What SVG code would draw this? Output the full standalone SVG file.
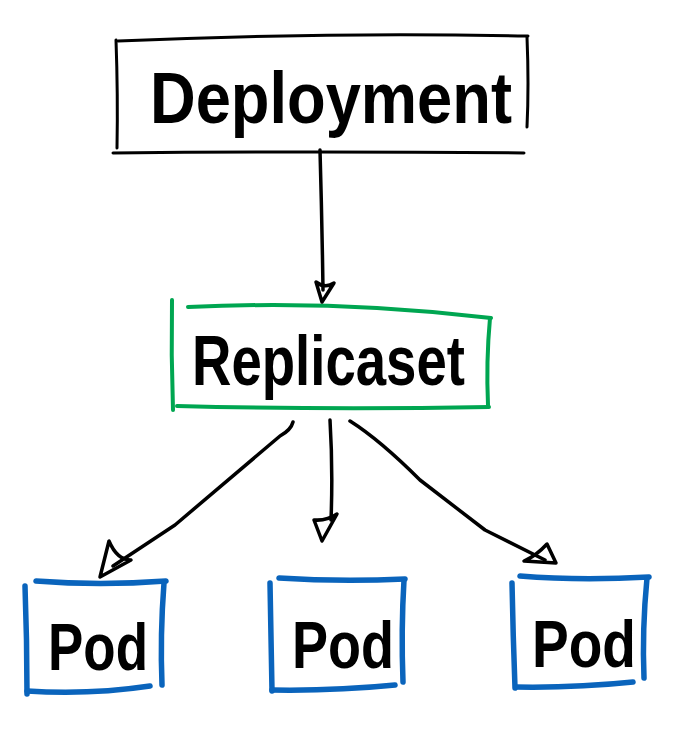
<svg xmlns="http://www.w3.org/2000/svg" width="700" height="740" viewBox="0 0 700 740">
<style>
.blk{fill:none;stroke:#000;stroke-width:3;stroke-linecap:round;stroke-linejoin:round}
.grn{fill:none;stroke:#00a651;stroke-width:4;stroke-linecap:round;stroke-linejoin:round}
.blu{fill:none;stroke:#0a64bc;stroke-width:5.5;stroke-linecap:round;stroke-linejoin:round}
.lbl{font-family:"Liberation Sans Narrow","Liberation Sans",sans-serif;fill:#000;font-weight:bold}
.conn{fill:none;stroke:#000;stroke-width:3.5;stroke-linecap:round;stroke-linejoin:round}
</style>
<rect width="700" height="740" fill="#fff"/>
<g id="deployment">
<path class="blk" d="M116 40 Q118 95 117 148"/>
<path class="blk" d="M118 41 Q320 32 528 36"/>
<path class="blk" d="M527 37 Q529 85 527 127"/>
<path class="blk" d="M113 153 Q320 151 524 153"/>
<text class="lbl" x="150" y="123" font-size="72" textLength="362" lengthAdjust="spacingAndGlyphs">Deployment</text>
</g>
<g id="replicaset">
<path class="grn" d="M172 300 Q171 355 173 410"/>
<path class="grn" d="M188 307 Q340 300 491 318"/>
<path class="grn" d="M490 318 Q486 362 488 405"/>
<path class="grn" d="M177 406 Q330 410 489 407"/>
<text class="lbl" x="192" y="385" font-size="70" textLength="273" lengthAdjust="spacingAndGlyphs">Replicaset</text>
</g>
<g id="pod1">
<path class="blu" d="M25 586 Q27 640 27 694"/>
<path class="blu" d="M36 581 Q100 586 166 581"/>
<path class="blu" d="M164 583 Q160 635 162 685"/>
<path class="blu" d="M27 691 Q90 695 150 686"/>
<text class="lbl" x="48" y="670" font-size="66" textLength="100" lengthAdjust="spacingAndGlyphs">Pod</text>
</g>
<g id="pod2">
<path class="blu" d="M270 583 Q271 640 272 691"/>
<path class="blu" d="M279 578 Q340 582 405 579"/>
<path class="blu" d="M404 580 Q401 630 403 682"/>
<path class="blu" d="M272 690 Q335 691 395 685"/>
<text class="lbl" x="292" y="668" font-size="66" textLength="102" lengthAdjust="spacingAndGlyphs">Pod</text>
</g>
<g id="pod3">
<path class="blu" d="M512 583 Q513 635 515 688"/>
<path class="blu" d="M520 576 Q580 581 649 577"/>
<path class="blu" d="M647 578 Q642 630 644 678"/>
<path class="blu" d="M516 687 Q575 688 633 682"/>
<text class="lbl" x="532" y="667" font-size="66" textLength="104" lengthAdjust="spacingAndGlyphs">Pod</text>
</g>
<g id="connectors">
<path class="conn" d="M320 150 Q322 220 323 290"/>
<path class="conn" d="M316 282 L322 302 L334 283 Q325 289 316 282 Z"/>
<path class="conn" d="M293 422 Q291 430 280 436 L175 525 L113 566"/>
<path class="conn" d="M109 541 L100 577 L131 560 Q117 560 109 541 Z"/>
<path class="conn" d="M330 420 Q333 470 331 520"/>
<path class="conn" d="M314 520 L322 541 L337 514 Q327 521 314 520 Z"/>
<path class="conn" d="M350 421 Q380 440 420 480 L485 530 L545 560"/>
<path class="conn" d="M524 561 L556 563 L547 544 Q536 556 524 561 Z"/>
</g>
</svg>
